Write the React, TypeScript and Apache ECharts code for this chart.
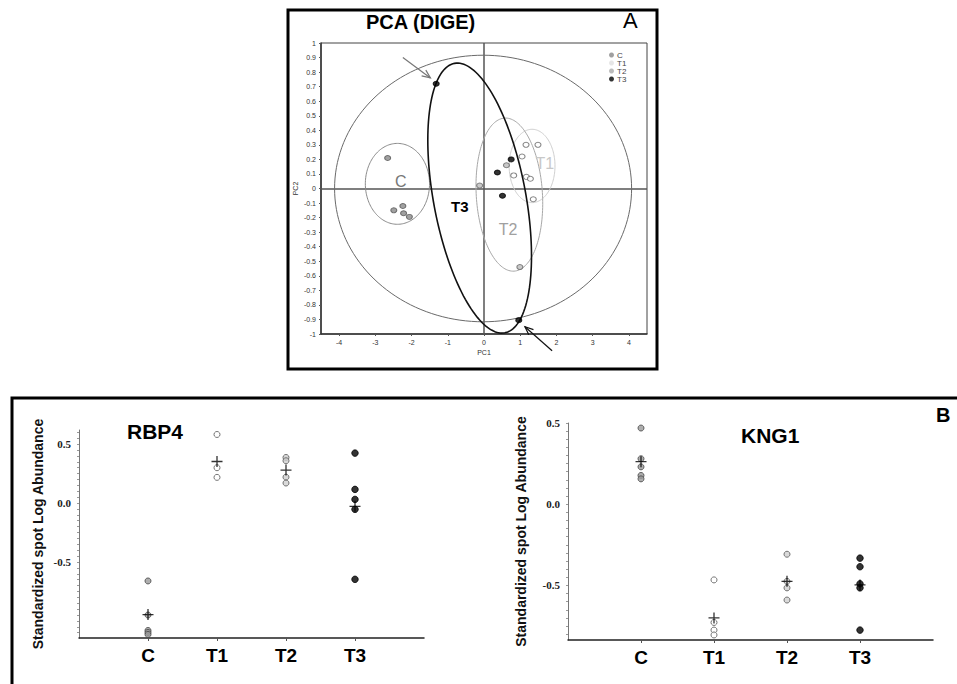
import React, { useEffect, useRef } from 'react';
import * as echarts from 'echarts';

// ---------- Panel A: PCA ----------
const pcaC = [[-2.66, 0.21], [-2.49, -0.15], [-2.24, -0.12], [-2.22, -0.17], [-2.06, -0.195]];
const pcaT1 = [[1.16, 0.3], [1.49, 0.3], [1.05, 0.22], [0.82, 0.09], [1.17, 0.08], [1.28, 0.067], [1.36, -0.074]];
const pcaT2 = [[0.62, 0.16], [-0.12, 0.02], [0.99, -0.54]];
const pcaT3 = [[-1.32, 0.72], [0.75, 0.2], [0.37, 0.11], [0.51, -0.05], [0.96, -0.905]];

const pcaXTicks = [-4, -3, -2, -1, 0, 1, 2, 3, 4];

// ellipses (data units): center, half-axis A, half-axis B
const ellipseCenters = [[-0.025, 0], [-2.39, 0.032], [1.327, 0.155], [0.7, -0.042], [-0.12, -0.066]];
const ellipseAxesA = [[0, 0.916], [0, 0.278], [0, 0.252], [-0.13, 0.526], [0.694, -0.926]];
const ellipseAxesB = [[4.1, 0], [0.886, 0], [0.633, 0], [0.912, 0.014], [1.252, 0.058]];
const ellipseColors = ['#6a6a6a', '#8a8a8a', '#cfcfcf', '#a8a8a8', '#111111'];
const ellipseWidths = [1, 1, 1, 1, 1.6];

const groupLabels = ['C', 'T1', 'T2', 'T3'];
const groupLabelPos = [[-2.3, 0.047], [1.68, 0.175], [0.665, -0.28], [-0.67, -0.127]];

const arrows = [[-2.24, 0.9, -1.48, 0.76], [1.88, -1.115, 1.13, -0.95]];
const arrowColors = ['#777', '#111'];

// ---------- Panel B ----------
const categories = ['C', 'T1', 'T2', 'T3'];
const rbp4C = [-0.661, -0.95, -1.081, -1.098, -1.115];
const rbp4T1 = [0.582, 0.3, 0.218];
const rbp4T2 = [0.387, 0.359, 0.22, 0.17];
const rbp4T3 = [0.424, 0.116, 0.031, -0.053, -0.647];
const rbp4Means = [-0.946, 0.353, 0.28, -0.028];

const kng1C = [0.469, 0.28, 0.23, 0.177, 0.156];
const kng1T1 = [-0.466, -0.728, -0.775, -0.805];
const kng1T2 = [-0.308, -0.475, -0.515, -0.59];
const kng1T3 = [-0.332, -0.385, -0.49, -0.515, -0.775];
const kng1Means = [0.262, -0.7, -0.475, -0.497];

const bYLabels = [-0.5, 0, 0.5];

const SANS = 'Liberation Sans, Arial, sans-serif';
const SERIF = 'Liberation Serif, Times New Roman, serif';
const PLUS = 'path://M0,4.4H10V5.6H0Z M4.4,0H5.6V10H4.4Z';

function minorTicks(lo: number, hi: number, step: number) {
  const out: number[] = [];
  for (let v = Math.ceil(lo / step) * step; v <= hi + 1e-9; v += step) out.push(Math.round(v * 1000) / 1000);
  return out;
}

function groupStyle(g: number) {
  if (g === 0) return { color: '#9a9a9a', borderColor: '#444', borderWidth: 1 };
  if (g === 1) return { color: '#ffffff', borderColor: '#555', borderWidth: 1 };
  if (g === 2) return { color: '#d0d0d0', borderColor: '#555', borderWidth: 1 };
  return { color: '#000', borderColor: '#000', borderWidth: 1 };
}

function bSeries(prefix: string, idx: number, groups: number[][], means: number[]) {
  const out: any[] = [];
  groups.forEach((vals, g) => {
    out.push({
      type: 'scatter',
      name: prefix + ' ' + categories[g],
      xAxisIndex: idx,
      yAxisIndex: idx,
      symbol: 'circle',
      symbolSize: g === 3 ? 6.5 : 6,
      itemStyle: groupStyle(g),
      data: vals.map((v) => [g + 1, v]),
      z: 3,
    });
  });
  out.push({
    type: 'scatter',
    name: prefix + ' mean',
    xAxisIndex: idx,
    yAxisIndex: idx,
    symbol: PLUS,
    symbolSize: 11,
    itemStyle: { color: '#000' },
    data: means.map((v, g) => [g + 1, v]),
    z: 4,
  });
  return out;
}

function bAxes(idx: number, min: number, max: number, nameGap: number) {
  const x = {
    type: 'value',
    gridIndex: idx,
    min: 0,
    max: 5,
    axisLine: { onZero: false, lineStyle: { color: '#222', width: 1.5 } },
    axisTick: { show: true, customValues: [1, 2, 3, 4], length: 3, lineStyle: { color: '#555' } },
    axisLabel: {
      customValues: [1, 2, 3, 4],
      formatter: (v: number) => categories[Math.round(v) - 1] || '',
      fontFamily: SANS,
      fontWeight: 'bold',
      fontSize: 19,
      color: '#000',
      margin: 8,
    },
    splitLine: { show: false },
  };
  const y = {
    type: 'value',
    gridIndex: idx,
    min,
    max,
    name: 'Standardized spot Log Abundance',
    nameLocation: 'middle',
    nameRotate: 90,
    nameGap,
    nameTextStyle: { fontFamily: SANS, fontWeight: 'bold', fontSize: 14, color: '#111' },
    axisLine: { onZero: false, lineStyle: { color: '#777', width: 1 } },
    axisTick: { show: true, customValues: minorTicks(min, max, 0.05), length: 2, lineStyle: { color: '#999' } },
    axisLabel: {
      customValues: bYLabels,
      formatter: (v: number) => v.toFixed(1),
      fontFamily: SERIF,
      fontWeight: 'bold',
      fontSize: 11,
      color: '#222',
      margin: 8,
    },
    splitLine: { show: false },
  };
  return { x, y };
}

export default function App() {
  const ref = useRef<HTMLDivElement>(null);
  useEffect(() => {
    if (!ref.current) return;
    const chart = echarts.init(ref.current, undefined, { renderer: 'svg' });
    const rb = bAxes(1, -1.145, 0.62, 34);
    const kn = bAxes(2, -0.836, 0.5, 40);

    const option: any = {
      animation: false,
      backgroundColor: '#fff',
      textStyle: { fontFamily: SANS },
      title: [
        { text: 'PCA (DIGE)', left: 366, top: 12, textStyle: { fontFamily: SANS, fontWeight: 'bold', fontSize: 20, color: '#000' }, padding: 0 },
        { text: 'A', left: 623, top: 9, textStyle: { fontFamily: SANS, fontWeight: 'normal', fontSize: 22, color: '#000' }, padding: 0 },
        { text: 'RBP4', left: 127, top: 421, textStyle: { fontFamily: SANS, fontWeight: 'bold', fontSize: 21, color: '#000' }, padding: 0 },
        { text: 'KNG1', left: 741, top: 425, textStyle: { fontFamily: SANS, fontWeight: 'bold', fontSize: 21, color: '#000' }, padding: 0 },
        { text: 'B', left: 936, top: 405, textStyle: { fontFamily: SANS, fontWeight: 'bold', fontSize: 20, color: '#000' }, padding: 0 },
      ],
      legend: {
        orient: 'vertical',
        left: 609,
        top: 51,
        padding: 0,
        itemGap: 0,
        itemWidth: 5,
        itemHeight: 5,
        icon: 'circle',
        textStyle: { fontSize: 8, color: '#444', lineHeight: 8, padding: [0, 0, 0, -2] },
        data: [
          { name: 'C', itemStyle: { color: '#888', borderWidth: 0 } },
          { name: 'T1', itemStyle: { color: '#e0e0e0', borderWidth: 0 } },
          { name: 'T2', itemStyle: { color: '#aaa', borderWidth: 0 } },
          { name: 'T3', itemStyle: { color: '#000', borderWidth: 0 } },
        ],
      },
      graphic: [
        { type: 'rect', shape: { x: 288, y: 10, width: 369, height: 359 }, style: { fill: 'none', stroke: '#000', lineWidth: 3 }, silent: true },
        { type: 'rect', shape: { x: 12, y: 398, width: 1000, height: 400 }, style: { fill: 'none', stroke: '#000', lineWidth: 3 }, silent: true },
      ],
      grid: [
        { left: 321, top: 43, width: 326, height: 291, show: true, borderColor: '#444', borderWidth: 1, backgroundColor: 'transparent' },
        { left: 79, top: 430, width: 345, height: 208 },
        { left: 568, top: 423, width: 365, height: 217 },
      ],
      xAxis: [
        {
          type: 'value',
          gridIndex: 0,
          min: -4.5,
          max: 4.5,
          name: 'PC1',
          nameLocation: 'middle',
          nameGap: 15,
          nameTextStyle: { fontSize: 7, color: '#333' },
          axisLine: { onZero: false, lineStyle: { color: '#333', width: 1.5 } },
          axisTick: { show: true, customValues: pcaXTicks, length: 2, lineStyle: { color: '#555' } },
          axisLabel: { customValues: pcaXTicks, fontSize: 7, color: '#333', margin: 5 },
          splitLine: { show: false },
        },
        rb.x,
        kn.x,
      ],
      yAxis: [
        {
          type: 'value',
          gridIndex: 0,
          min: -1,
          max: 1,
          interval: 0.1,
          name: 'PC2',
          nameLocation: 'middle',
          nameRotate: 90,
          nameGap: 22,
          nameTextStyle: { fontSize: 7, color: '#333' },
          axisLine: { onZero: false, lineStyle: { color: '#333', width: 1.5 } },
          axisTick: { show: true, length: 2, lineStyle: { color: '#555' } },
          axisLabel: { fontSize: 7, color: '#333', margin: 5, formatter: (v: number) => String(Math.round(v * 10) / 10) },
          splitLine: { show: false },
        },
        rb.y,
        kn.y,
      ],
      series: [
        {
          type: 'custom',
          name: 'ellipses',
          xAxisIndex: 0,
          yAxisIndex: 0,
          clip: false,
          silent: true,
          data: ellipseCenters,
          renderItem: (params: any, api: any) => {
            const i = params.dataIndex;
            const c = ellipseCenters[i];
            const a = ellipseAxesA[i];
            const b = ellipseAxesB[i];
            const pts: number[][] = [];
            for (let k = 0; k <= 160; k++) {
              const t = (k / 160) * Math.PI * 2;
              pts.push(api.coord([c[0] + a[0] * Math.cos(t) + b[0] * Math.sin(t), c[1] + a[1] * Math.cos(t) + b[1] * Math.sin(t)]));
            }
            return { type: 'polyline', shape: { points: pts }, style: { fill: 'none', stroke: ellipseColors[i], lineWidth: ellipseWidths[i] } };
          },
          z: 2,
        },
        {
          type: 'custom',
          name: 'arrows',
          xAxisIndex: 0,
          yAxisIndex: 0,
          clip: false,
          silent: true,
          data: arrows,
          renderItem: (params: any, api: any) => {
            const d = arrows[params.dataIndex];
            const p1 = api.coord([d[0], d[1]]);
            const p2 = api.coord([d[2], d[3]]);
            const ang = Math.atan2(p2[1] - p1[1], p2[0] - p1[0]);
            const L = 9;
            const h1 = [p2[0] - L * Math.cos(ang - 0.4), p2[1] - L * Math.sin(ang - 0.4)];
            const h2 = [p2[0] - L * Math.cos(ang + 0.4), p2[1] - L * Math.sin(ang + 0.4)];
            const col = arrowColors[params.dataIndex];
            return {
              type: 'group',
              children: [
                { type: 'line', shape: { x1: p1[0], y1: p1[1], x2: p2[0], y2: p2[1] }, style: { stroke: col, lineWidth: 1.2 } },
                { type: 'polyline', shape: { points: [h1, p2, h2] }, style: { fill: 'none', stroke: col, lineWidth: 1.2 } },
              ],
            };
          },
          z: 5,
        },
        {
          type: 'custom',
          name: 'groupLabels',
          xAxisIndex: 0,
          yAxisIndex: 0,
          clip: false,
          silent: true,
          data: groupLabelPos,
          renderItem: (params: any, api: any) => {
            const i = params.dataIndex;
            const p = api.coord(groupLabelPos[i]);
            const cols = ['#777', '#c8c8c8', '#a0a0a0', '#000'];
            return {
              type: 'text',
              x: p[0],
              y: p[1],
              style: {
                text: groupLabels[i],
                fill: cols[i],
                fontSize: i === 3 ? 15 : 16,
                fontWeight: i === 3 ? 'bold' : 'normal',
                fontFamily: SANS,
                align: 'center',
                verticalAlign: 'middle',
              },
            };
          },
          z: 3,
        },
        {
          type: 'scatter',
          name: 'C',
          xAxisIndex: 0,
          yAxisIndex: 0,
          symbol: 'circle',
          symbolSize: [6, 5],
          itemStyle: { color: '#8a8a8a', borderColor: '#555', borderWidth: 1 },
          data: pcaC,
          z: 4,
          markLine: {
            silent: true,
            symbol: ['none', 'none'],
            label: { show: false },
            lineStyle: { color: '#555', type: 'solid', width: 1.5 },
            data: [{ xAxis: 0 }, { yAxis: 0 }],
            z: 1,
          },
        },
        {
          type: 'scatter',
          name: 'T1',
          xAxisIndex: 0,
          yAxisIndex: 0,
          symbol: 'circle',
          symbolSize: [6, 5],
          itemStyle: { color: '#fff', borderColor: '#666', borderWidth: 1 },
          data: pcaT1,
          z: 4,
        },
        {
          type: 'scatter',
          name: 'T2',
          xAxisIndex: 0,
          yAxisIndex: 0,
          symbol: 'circle',
          symbolSize: [6, 5],
          itemStyle: { color: '#bbb', borderColor: '#666', borderWidth: 1 },
          data: pcaT2,
          z: 4,
        },
        {
          type: 'scatter',
          name: 'T3',
          xAxisIndex: 0,
          yAxisIndex: 0,
          symbol: 'circle',
          symbolSize: [6, 5],
          itemStyle: { color: '#000', borderColor: '#000', borderWidth: 1 },
          data: pcaT3,
          z: 4,
        },
        ...bSeries('RBP4', 1, [rbp4C, rbp4T1, rbp4T2, rbp4T3], rbp4Means),
        ...bSeries('KNG1', 2, [kng1C, kng1T1, kng1T2, kng1T3], kng1Means),
      ],
    };
    chart.setOption(option);
    return () => chart.dispose();
  }, []);
  return <div ref={ref} style={{ position: 'fixed', left: 0, top: 0, width: 957, height: 684, background: '#fff' }} />;
}
